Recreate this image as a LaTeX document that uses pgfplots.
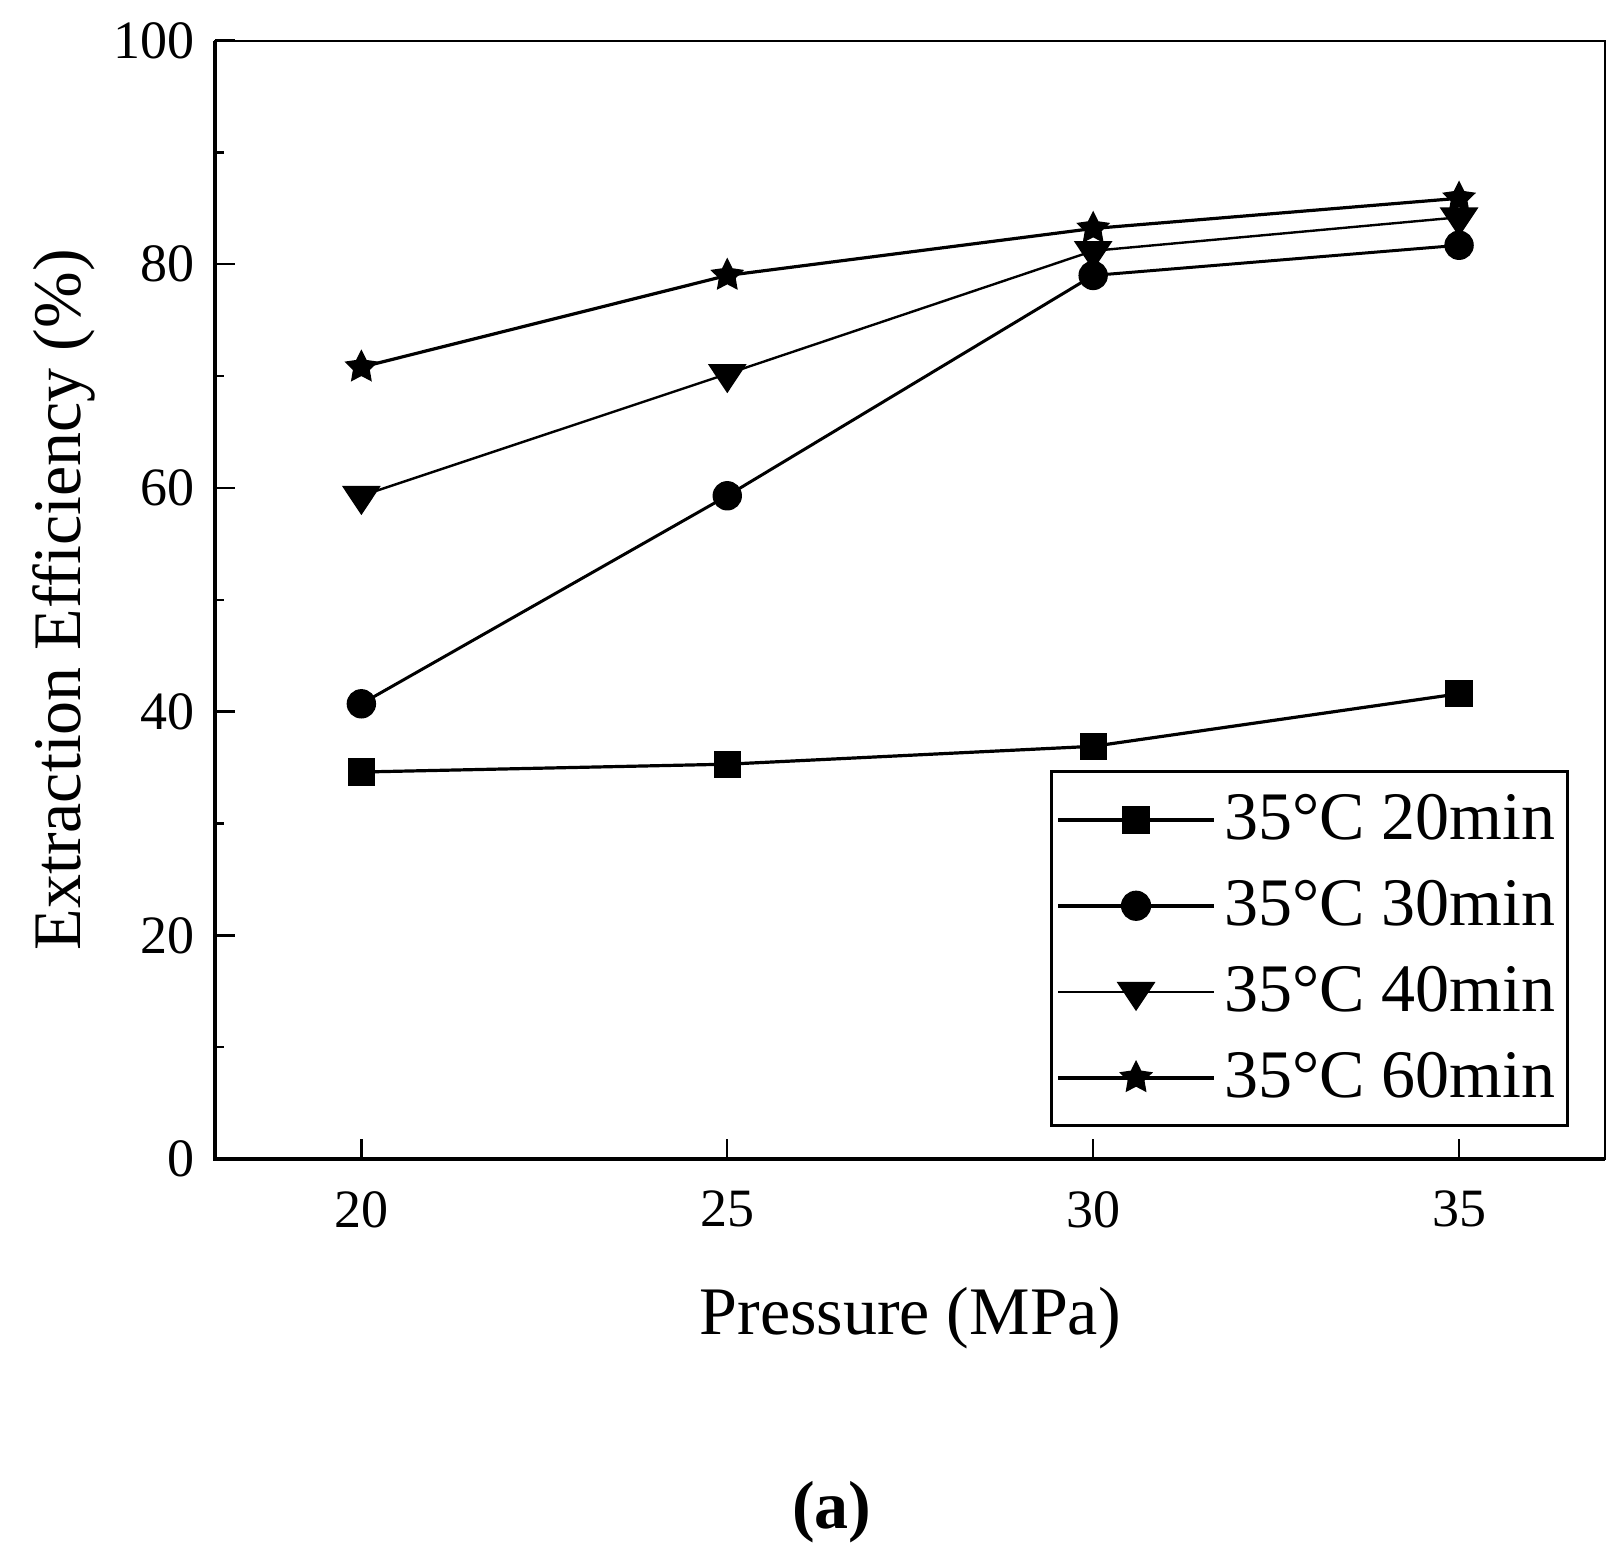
\documentclass[border=0pt]{standalone}
\usepackage{fontspec}
\setmainfont{Liberation Serif}
\usepackage{pgfplots}
\pgfplotsset{compat=1.18}

% filled five-pointed star
\pgfdeclareplotmark{fstar}{%
  \pgfpathmoveto{\pgfpointpolar{90}{\pgfplotmarksize}}%
  \pgfpathlineto{\pgfpointpolar{126}{0.5\pgfplotmarksize}}%
  \pgfpathlineto{\pgfpointpolar{162}{\pgfplotmarksize}}%
  \pgfpathlineto{\pgfpointpolar{198}{0.5\pgfplotmarksize}}%
  \pgfpathlineto{\pgfpointpolar{234}{\pgfplotmarksize}}%
  \pgfpathlineto{\pgfpointpolar{270}{0.5\pgfplotmarksize}}%
  \pgfpathlineto{\pgfpointpolar{306}{\pgfplotmarksize}}%
  \pgfpathlineto{\pgfpointpolar{342}{0.5\pgfplotmarksize}}%
  \pgfpathlineto{\pgfpointpolar{18}{\pgfplotmarksize}}%
  \pgfpathlineto{\pgfpointpolar{54}{0.5\pgfplotmarksize}}%
  \pgfpathclose
  \pgfusepathqfillstroke
}

% legend sample: 39pt line, marker in the middle, own line width
\pgfplotsset{
  limg/.style={legend image code/.code={%
    \draw[mark repeat=2,mark phase=2,##1,line width=#1]
      plot coordinates {(0pt,0pt) (19.5pt,0pt) (39pt,0pt)};}},
}

\begin{document}
\begin{tikzpicture}
\path[use as bounding box] (0,0) rectangle (405.75pt,390.25pt);
\begin{axis}[
    at={(53.75pt,100.5pt)}, anchor=south west,
    scale only axis,
    width=347.6pt, height=279.6pt,
    xmin=18, xmax=37, ymin=0, ymax=100,
    xtick={20,25,30,35},
    ytick={0,20,...,100},
    minor y tick num=1,
    xtick pos=bottom, ytick pos=left,
    tick align=inside,
    major tick length=5pt, minor tick length=2.2pt,
    tick style={line width=0.6pt, black},
    axis line style={line width=0.5pt},
    clip=false,
    /pgf/number format/assume math mode=true,
    ticklabel style={font=\fontsize{13.5}{16}\selectfont},
    xticklabel shift=4.5pt,
    yticklabel shift=1.7pt,
    xlabel={Pressure (MPa)},
    ylabel={Extraction Efficiency (\%)},
    label style={font=\fontsize{17}{20}\selectfont},
    xlabel style={at={(axis description cs:0.5,-0.157)}, anchor=base},
    ylabel style={at={(axis description cs:-0.0964,0.5)}, anchor=base},
    legend style={at={(0.9738,0.0285)}, anchor=south east,
        draw=black, line width=0.75pt,
        font=\fontsize{17}{20}\selectfont,
        inner xsep=1pt, inner ysep=1.2pt,
        nodes={inner ysep=4.35pt}},
    legend cell align=left,
]
\draw[line width=1.1pt] (rel axis cs:0,1) -- (rel axis cs:0,0) -- (rel axis cs:1,0);

\addplot[black, line width=0.8pt, mark=square*, mark size=3pt,
    mark options={solid, fill=black}, limg=1.05pt]
    coordinates {(20,34.6) (25,35.3) (30,36.9) (35,41.6)};
\addlegendentry{35°C 20min}

\addplot[black, line width=0.75pt, mark=*, mark size=3.3pt,
    mark options={solid, fill=black}, limg=0.95pt]
    coordinates {(20,40.7) (25,59.3) (30,79.0) (35,81.7)};
\addlegendentry{35°C 30min}

\addplot[black, line width=0.6pt, mark=triangle*, mark size=4.3pt,
    mark options={solid, fill=black, rotate=180, xscale=1.15}, limg=0.6pt]
    coordinates {(20,59.3) (25,70.2) (30,81.2) (35,84.2)};
\addlegendentry{35°C 40min}

\addplot[black, line width=0.8pt, mark=fstar, mark size=4pt,
    mark options={solid, fill=black, line width=0.4pt}, limg=1.05pt]
    coordinates {(20,70.8) (25,79.0) (30,83.2) (35,85.9)};
\addlegendentry{35°C 60min}

\node[font=\fontsize{17}{20}\selectfont\bfseries, anchor=base]
    at (axis description cs:0.4437,-0.33) {(a)};
\end{axis}
\end{tikzpicture}
\end{document}
